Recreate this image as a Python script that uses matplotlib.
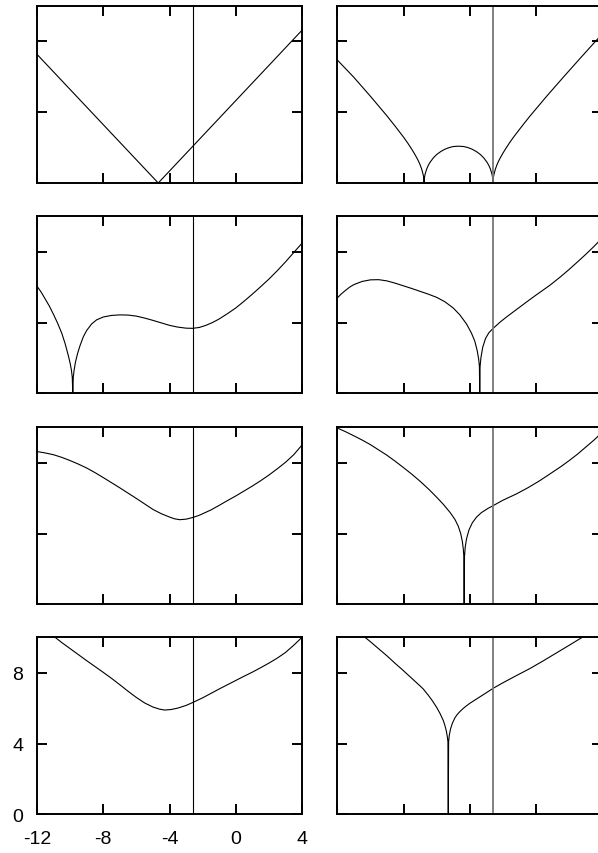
import matplotlib
matplotlib.use("Agg")
import matplotlib.pyplot as plt

plt.rcParams['font.family'] = ['Liberation Sans', 'DejaVu Sans']
plt.rcParams['axes.unicode_minus'] = False

# ticks
x_ticks = [-12, -8, -4, 0, 4]
y_ticks = [0, 4, 8]
x_marker = -2.6

# panel data
x1 = [-12, -4.68, 4]
y1 = [7.27, 0, 8.63]

x2 = [-12, -11, -10, -9, -8.5, -8, -7.75, -7.5, -7.35, -7.2, -7.1, -7.0, -6.9, -6.8, -6.78, -6.76,
      -6.74, -6.7, -6.6, -6.5, -6.4, -6.2, -6.0, -5.75, -5.5, -5.25, -5.0, -4.68, -4.36, -4.11, -3.86,
      -3.61, -3.36, -3.16, -2.96, -2.86, -2.76, -2.66, -2.62, -2.60, -2.58, -2.56, -2.46, -2.36,
      -2.26, -2.16, -2.01, -1.86, -1.61, -1.36, -0.86, -0.36, 0.64, 1.64, 2.64, 4]
y2 = [6.95, 5.97, 4.90, 3.79, 3.20, 2.59, 2.26, 1.90, 1.67, 1.42, 1.24, 1.03, 0.77, 0.41, 0.28, 0,
      0.29, 0.50, 0.80, 1.01, 1.17, 1.42, 1.61, 1.78, 1.91, 2.00, 2.06, 2.08, 2.06, 2.00, 1.91,
      1.78, 1.61, 1.42, 1.17, 1.01, 0.80, 0.50, 0.29, 0, 0.28, 0.41, 0.77, 1.03,
      1.24, 1.42, 1.67, 1.90, 2.26, 2.59, 3.20, 3.79, 4.90, 5.97, 7.02, 8.43]

x3 = [-12, -11.75, -11.5, -11.25, -11, -10.75, -10.5, -10.3, -10.1, -10.0, -9.92, -9.87, -9.84,
      -9.81, -9.76, -9.68, -9.55, -9.4, -9.2, -9.0, -8.7, -8.4, -8.0, -7.5, -7.0, -6.5, -6.0, -5.5,
      -5.0, -4.5, -4.0, -3.5, -3.0, -2.61, -2.2, -1.8, -1.4, -1.0, -0.5, 0.0, 0.5, 1.0, 1.5, 2.0,
      2.5, 3.0, 3.5, 4.0]
y3 = [6.05, 5.72, 5.32, 4.92, 4.45, 3.95, 3.38, 2.8, 2.1, 1.7, 1.3, 0.9, 0,
      0.9, 1.3, 1.75, 2.25, 2.7, 3.2, 3.55, 3.92, 4.15, 4.31, 4.40, 4.43, 4.42, 4.36, 4.25,
      4.12, 3.98, 3.84, 3.74, 3.68, 3.67, 3.72, 3.84, 4.0, 4.2, 4.5, 4.82, 5.2, 5.6, 6.02, 6.45,
      6.92, 7.42, 7.95, 8.48]

x4 = [-12, -11.75, -11.5, -11.25, -11, -10.5, -10, -9.5, -9.0, -8.5, -8.0, -7.5, -7.0, -6.5, -6.0,
      -5.5, -5.0, -4.6, -4.2, -3.9, -3.7, -3.55, -3.46, -3.42, -3.40, -3.38, -3.33, -3.22, -3.05,
      -2.85, -2.6, -2.2, -1.8, -1.2, -0.6, 0.0, 0.83, 1.5, 2.0, 2.5, 3.0, 3.5, 4.0]
y4 = [5.39, 5.62, 5.82, 6.0, 6.14, 6.32, 6.41, 6.42, 6.35, 6.22, 6.07, 5.92, 5.76, 5.6, 5.42,
      5.17, 4.82, 4.43, 3.92, 3.4, 2.95, 2.4, 1.9, 1.5, 0, 1.5, 2.0, 2.6, 3.1,
      3.42, 3.66, 4.0, 4.3, 4.72, 5.14, 5.55, 6.10, 6.6, 7.0, 7.42, 7.85, 8.3, 8.78]

x5 = [-12, -11.5, -11, -10.5, -10, -9.5, -9, -8.5, -8, -7.5, -7, -6.5, -6, -5.5, -5, -4.5, -4.0,
      -3.7, -3.38, -3.0, -2.61, -2.2, -1.5, -1, -0.5, 0, 0.5, 1, 1.5, 2, 2.5, 3, 3.5, 4]
y5 = [8.63, 8.55, 8.45, 8.3, 8.12, 7.92, 7.7, 7.44, 7.16, 6.87, 6.58, 6.28, 5.98, 5.67, 5.36, 5.12,
      4.93, 4.83, 4.78, 4.81, 4.9, 5.03, 5.33, 5.59, 5.86, 6.12, 6.4, 6.68, 6.98, 7.3, 7.65, 8.02,
      8.45, 9.0]

x6 = [-12, -11.5, -11, -10.5, -10, -9.5, -9, -8.5, -8, -7.5, -7, -6.5, -6, -5.6, -5.2, -4.9, -4.7,
      -4.55, -4.45, -4.39, -4.36, -4.34, -4.32, -4.28, -4.2, -4.05, -3.85, -3.6, -3.3, -2.9, -2.6,
      -2, -1.2, -0.5, 0.2, 0.83, 1.5, 2.0, 2.5, 3.0, 3.5, 4.0]
y6 = [9.96, 9.75, 9.52, 9.28, 9.02, 8.72, 8.42, 8.08, 7.72, 7.35, 6.95, 6.52, 6.05, 5.65, 5.2,
      4.8, 4.42, 4.0, 3.55, 3.1, 2.7, 0, 2.7, 3.2, 3.69, 4.2, 4.6, 4.92, 5.18, 5.42, 5.57,
      5.88, 6.23, 6.58, 6.97, 7.36, 7.78, 8.12, 8.48, 8.88, 9.28, 9.72]

x7 = [-10.91, -10.5, -10, -9.5, -9, -8.5, -8, -7.5, -7, -6.5, -6, -5.5, -5, -4.6, -4.28, -3.9,
      -3.5, -3.0, -2.61, -2, -1.5, -1, -0.5, 0, 0.5, 1, 1.5, 2, 2.5, 3, 3.5, 4]
y7 = [10.0, 9.7, 9.36, 9.02, 8.68, 8.35, 8.02, 7.68, 7.32, 6.95, 6.6, 6.29, 6.06, 5.94, 5.89,
      5.92, 6.0, 6.15, 6.31, 6.58, 6.83, 7.08, 7.32, 7.56, 7.8, 8.03, 8.28, 8.54, 8.82, 9.14,
      9.55, 10.0]

x8 = [-10.33, -10, -9.5, -9, -8.5, -8.12, -7.5, -7, -6.81, -6.5, -6.25, -6.0, -5.8, -5.6, -5.5,
      -5.42, -5.36, -5.32, -5.30, -5.28, -5.24, -5.17, -5.05, -4.9, -4.75, -4.6, -4.4, -4.2, -4.0,
      -3.8, -3.5, -3.2, -2.9, -2.59, -2, -1.2, -0.38, 0.4, 1.2, 2.0, 2.79]
y8 = [10.0, 9.75, 9.35, 8.95, 8.52, 8.21, 7.68, 7.25, 7.08, 6.72, 6.4, 6.04, 5.7, 5.3, 5.01,
      4.72, 4.4, 4.1, 0, 4.1, 4.45, 4.8, 5.15, 5.45, 5.65, 5.8, 5.98, 6.13, 6.27,
      6.39, 6.57, 6.75, 6.93, 7.12, 7.43, 7.83, 8.23, 8.65, 9.1, 9.55, 10.0]

panels = [(x1, y1), (x2, y2), (x3, y3), (x4, y4), (x5, y5), (x6, y6), (x7, y7), (x8, y8)]

W, H = 598, 854
fig = plt.figure(figsize=(W / 100, H / 100), dpi=100)

lefts = [37, 337.3]
tops = [7, 217.3, 428.3, 638.3]
aw, ah = 265, 177

for i, (xs, ys) in enumerate(panels):
    r, c = divmod(i, 2)
    ax = fig.add_axes([lefts[c] / W, 1 - (tops[r] + ah) / H, aw / W, ah / H])
    ax.plot(xs, ys, color='black', lw=0.8)
    if c == 0:
        ax.axvline(x_marker, color='black', lw=0.8)
    else:
        ax.axvline(x_marker, color='#777777', lw=1.3)
    ax.set_xlim(-12, 4)
    ax.set_ylim(0, 10)
    ax.set_xticks(x_ticks)
    ax.set_yticks(y_ticks)
    ax.tick_params(direction='in', length=7.2, width=1.4, top=True, right=True,
                   labelsize=14)
    ax.tick_params(axis='x', pad=11)
    ax.tick_params(axis='y', pad=10)
    for s in ax.spines.values():
        s.set_linewidth(1.4)
    if not (r == 3 and c == 0):
        ax.set_xticklabels([])
        ax.set_yticklabels([])

fig.savefig('out.png', dpi=100)
